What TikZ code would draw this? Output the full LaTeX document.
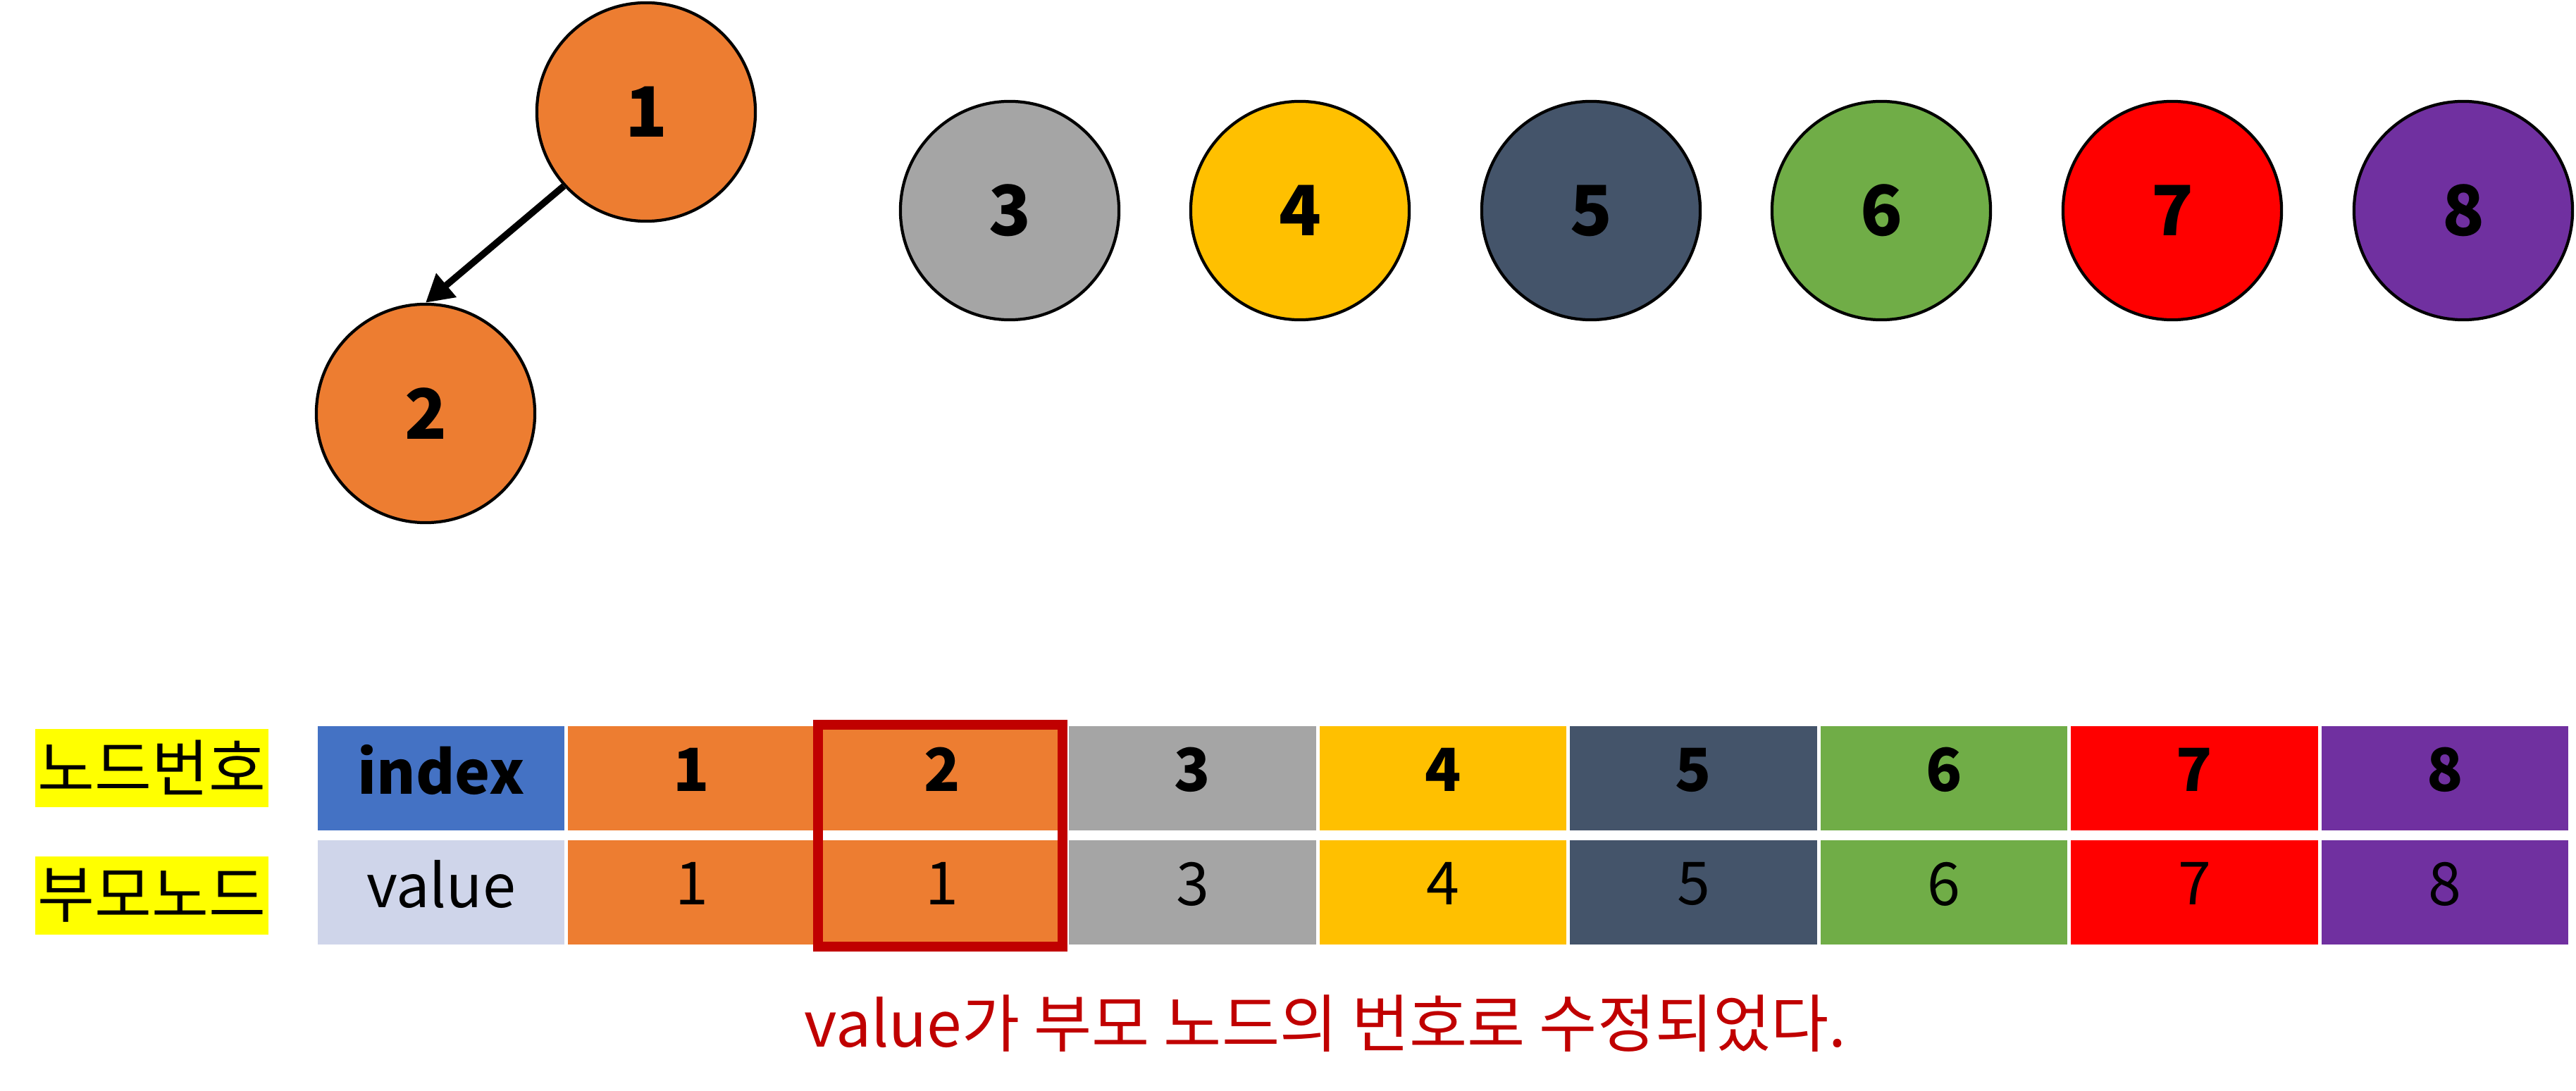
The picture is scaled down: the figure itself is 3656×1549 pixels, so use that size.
\documentclass[tikz,border=0pt]{standalone}
\usepackage{fontspec}
\setmainfont{Noto Sans CJK KR}
\usetikzlibrary{arrows.meta}
\definecolor{cOrange}{HTML}{ED7D31}
\definecolor{cGrey}{HTML}{A5A5A5}
\definecolor{cGold}{HTML}{FFC000}
\definecolor{cSlate}{HTML}{44546A}
\definecolor{cGreen}{HTML}{70AD47}
\definecolor{cRed}{HTML}{FF0000}
\definecolor{cPurple}{HTML}{7030A0}
\definecolor{cBlue}{HTML}{4472C4}
\definecolor{cPale}{HTML}{CFD5EA}
\definecolor{cYellow}{HTML}{FFFF00}
\definecolor{cDark}{HTML}{C00000}
\begin{document}
\begin{tikzpicture}[x=0.01cm,y=-0.01cm,
  circ/.style={circle, draw=black, line width=1.2pt, minimum size=3.10cm, inner sep=0pt,
    font=\fontsize{28}{32}\selectfont\bfseries},
  cell/.style={rectangle, minimum width=3.505cm, minimum height=1.48cm, inner sep=0pt,
    anchor=north west, text depth=7pt, font=\fontsize{24}{28}\selectfont},
  headcell/.style={cell, font=\fontsize{24}{28}\selectfont\bfseries},
  tag/.style={rectangle, fill=cYellow, minimum width=3.31cm, minimum height=1.11cm, inner sep=0pt,
    anchor=north west, font=\fontsize{25}{28}\selectfont},
  link/.style={line width=2.7pt, -{Triangle[length=11pt,width=12pt]}},
  mark box/.style={draw=cDark, line width=4pt},
  note/.style={text=cDark, font=\fontsize{25.4}{29}\selectfont}]
\useasboundingbox (0,0) rectangle (3656,1549);

% tree circles
\node[circ, fill=cOrange] (n1) at (917,159) {1};
\node[circ, fill=cOrange] (n2) at (604,587) {2};
\node[circ, fill=cGrey]   (n3) at (1433,299) {3};
\node[circ, fill=cGold]   (n4) at (1845,299) {4};
\node[circ, fill=cSlate]  (n5) at (2258,299) {5};
\node[circ, fill=cGreen]  (n6) at (2670,299) {6};
\node[circ, fill=cRed]    (n7) at (3083,299) {7};
\node[circ, fill=cPurple] (n8) at (3496,299) {8};
\draw[link] (n1.222) -- (n2.north);

% labels
\node[tag] (lab1) at (49,1034) {노드번호};
\node[tag] (lab2) at (49,1215) {부모노드};

% table
\node[headcell, fill=cBlue] (h0) at (450,1030) {index};
\node[cell, fill=cPale] (v0) at (450,1192) {value};
\foreach \i/\c/\p in {1/cOrange/1, 2/cOrange/1, 3/cGrey/3, 4/cGold/4, 5/cSlate/5, 6/cGreen/6, 7/cRed/7, 8/cPurple/8}{
  \node[headcell, fill=\c] (h\i) at (450+355.5*\i,1030) {\i};
  \node[cell, fill=\c] (v\i) at (450+355.5*\i,1192) {\p};
}

% highlight
\draw[mark box] (1161,1029) rectangle (1508,1344);

% caption
\node[note] (cap) at (1881,1453) {value가 부모 노드의 번호로 수정되었다.};
\end{tikzpicture}
\end{document}
